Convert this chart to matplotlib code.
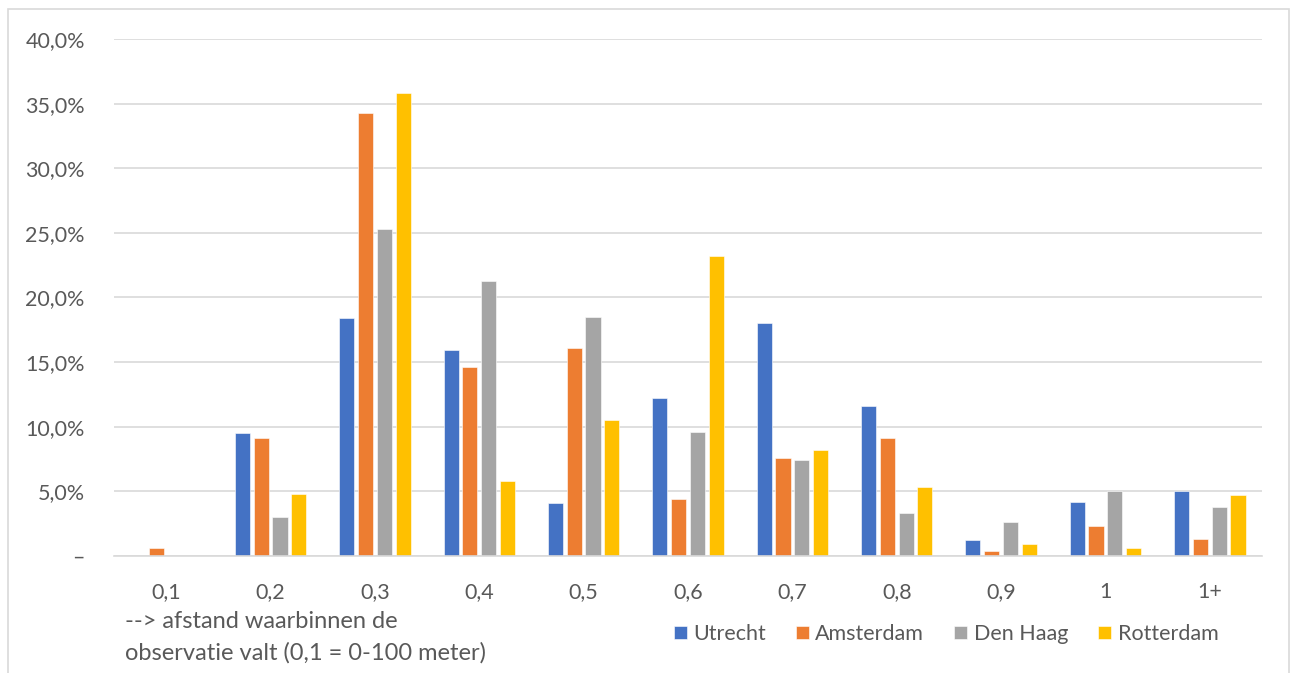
import matplotlib
matplotlib.use("Agg")
import matplotlib.pyplot as plt
from matplotlib.patches import Rectangle
from matplotlib.ticker import FuncFormatter
import numpy as np

categories = ["0,1", "0,2", "0,3", "0,4", "0,5", "0,6", "0,7", "0,8", "0,9", "1", "1+"]
utrecht = [0.0, 9.5, 18.4, 15.9, 4.1, 12.2, 18.0, 11.6, 1.2, 4.2, 5.05]
amsterdam = [0.6, 9.1, 34.3, 14.6, 16.1, 4.4, 7.6, 9.1, 0.35, 2.3, 1.3]
den_haag = [0.0, 3.0, 25.3, 21.3, 18.5, 9.6, 7.4, 3.3, 2.6, 5.05, 3.8]
rotterdam = [0.0, 4.8, 35.8, 5.8, 10.5, 23.2, 8.2, 5.3, 0.9, 0.6, 4.7]
series = [("Utrecht", utrecht, "#4472c4"), ("Amsterdam", amsterdam, "#ed7d31"),
          ("Den Haag", den_haag, "#a5a5a5"), ("Rotterdam", rotterdam, "#ffc000")]

TXT = "#595959"
FS = 15.5
plt.rcParams["font.family"] = ["Lato", "DejaVu Sans"]

W, H = 1297, 673
fig = plt.figure(figsize=(W / 100, H / 100), dpi=100)
fig.patches.append(Rectangle((8 / W, -0.01), (1289 - 8) / W, (H - 9) / H + 0.01,
                             transform=fig.transFigure, fill=False, edgecolor="#d9d9d9", lw=1.2))
ax = fig.add_axes([114 / W, 1 - 556 / H, (1262 - 114) / W, (556 - 39) / H])

x = np.arange(len(categories))
slot, bw = 0.18, 0.145
for i, (name, vals, col) in enumerate(series):
    ax.bar(x + (i - 1.5) * slot, np.array(vals) / 100, width=bw, color=col,
           edgecolor="white", linewidth=0.4, label=name, zorder=2)

ax.set_xlim(-0.5, len(categories) - 0.5)
ax.set_ylim(0, 0.40)
ax.set_yticks(np.arange(0, 0.41, 0.05))
ax.yaxis.set_major_formatter(FuncFormatter(
    lambda v, _: "–" if abs(v) < 1e-9 else f"{v * 100:.1f}%".replace(".", ",")))
ax.set_xticks(x)
ax.set_xticklabels(categories)
ax.grid(axis="y", color="#d9d9d9", lw=1.2, zorder=0)
for s in ["top", "right", "left"]:
    ax.spines[s].set_visible(False)
ax.spines["bottom"].set_color("#d9d9d9")
ax.spines["bottom"].set_linewidth(1.2)
ax.tick_params(axis="both", length=0, labelsize=FS, colors=TXT)
ax.tick_params(axis="y", pad=21)
ax.tick_params(axis="x", pad=19)

# axis title sits bottom-left, under the category labels
fig.text(125 / W, 1 - 611 / H, "--> afstand waarbinnen de\nobservatie valt (0,1 = 0-100 meter)",
         ha="left", va="top", fontsize=17, color=TXT, linespacing=1.55)

fig.legend(loc="center", bbox_to_anchor=(946 / W, 1 - 634 / H), ncol=4, frameon=False,
           fontsize=FS, labelcolor=TXT, handlelength=0.6, handleheight=0.6,
           handletextpad=0.3, columnspacing=1.4)

fig.savefig("out.png", dpi=100)
